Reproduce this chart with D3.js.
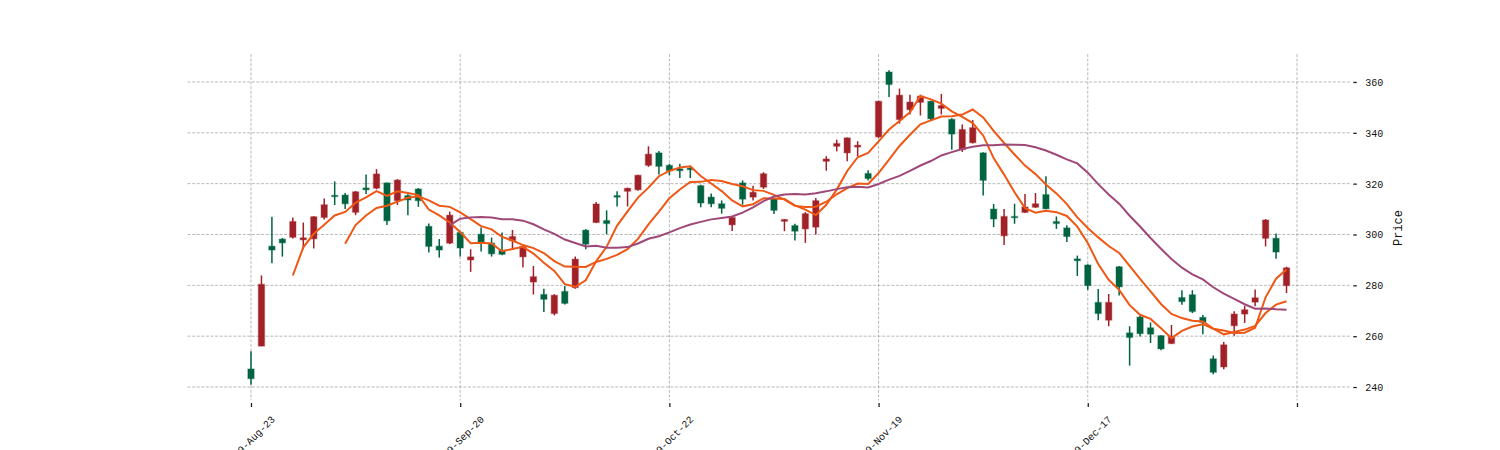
<!DOCTYPE html>
<html>
<head>
<meta charset="utf-8">
<script src="https://cdn.jsdelivr.net/npm/d3@7"></script>
<style>
  body { margin: 0; background: #fff; }
  .grid line { stroke: #a8a8a8; stroke-width: 0.8; stroke-dasharray: 3,1.6; }
  .axis text { font-family: "Liberation Mono", "DejaVu Sans Mono", monospace; font-size: 10px; fill: #111; }
  .axis line { stroke: #222; stroke-width: 1.3; }
  .axis-title { font-family: "Liberation Mono", "DejaVu Sans Mono", monospace; font-size: 12px; fill: #111; }
</style>
</head>
<body>
<div id="chart"></div>
<script>
// daily OHLC, one entry per trading day (index 0..99)
const opens = [247.1, 256.1, 295.4, 298.2, 298.9, 297.9, 298.3, 306.7, 315.4, 315.5,
  308.7, 318.3, 318.2, 320.3, 313.3, 315.3, 317.9, 303.2, 295.4, 296.6,
  300.8, 290.0, 300.1, 296.6, 293.8, 297.5, 291.2, 281.3, 276.4, 268.9,
  277.6, 279.1, 301.7, 304.7, 305.5, 315.3, 317.0, 317.6, 327.2, 332.1,
  327.2, 325.8, 326.1, 319.2, 314.7, 312.1, 303.8, 320.3, 314.7, 318.6,
  314.0, 305.2, 303.5, 302.2, 302.9, 328.8, 334.7, 332.1, 334.4, 324.0,
  338.4, 363.9, 345.2, 349.1, 352.0, 352.4, 349.6, 345.3, 333.4, 336.1,
  332.1, 310.0, 299.5, 307.1, 308.7, 310.7, 315.7, 305.1, 302.6, 290.4,
  288.0, 273.3, 266.3, 287.3, 261.3, 267.5, 263.3, 260.2, 257.1, 275.2,
  276.3, 267.4, 251.1, 247.9, 264.1, 268.7, 273.4, 298.5, 298.5, 279.9];
const highs = [254.1, 283.9, 307.0, 298.6, 306.7, 304.7, 307.2, 314.2, 320.9, 316.3,
  317.1, 323.6, 325.7, 320.5, 321.8, 315.8, 318.3, 304.3, 298.2, 309.0,
  301.4, 294.2, 302.8, 298.8, 300.8, 301.8, 295.8, 287.6, 278.7, 276.5,
  279.7, 291.3, 302.1, 312.8, 309.5, 317.0, 318.4, 323.5, 334.7, 332.8,
  327.8, 327.8, 327.1, 319.6, 316.1, 313.4, 306.9, 321.3, 319.2, 324.5,
  314.4, 306.1, 304.2, 308.8, 314.4, 330.8, 337.3, 338.2, 336.7, 325.3,
  352.6, 364.6, 357.4, 355.0, 355.0, 352.6, 355.3, 345.7, 343.3, 345.0,
  332.4, 312.0, 310.0, 312.1, 315.9, 316.3, 322.9, 307.1, 303.6, 291.7,
  288.3, 278.6, 276.6, 287.6, 263.9, 268.1, 265.4, 260.4, 264.4, 278.1,
  278.1, 268.3, 252.4, 257.7, 269.8, 272.0, 278.4, 306.1, 300.4, 287.3];
const lows = [240.9, 256.0, 288.7, 291.3, 298.4, 294.2, 294.5, 305.9, 311.6, 310.0,
  307.6, 315.9, 317.8, 303.7, 311.6, 307.6, 310.9, 292.9, 290.9, 296.2,
  291.3, 285.3, 293.3, 291.3, 291.8, 294.2, 287.0, 276.4, 269.5, 268.2,
  272.5, 278.7, 294.2, 304.5, 300.1, 311.0, 311.0, 317.2, 326.6, 323.6,
  323.3, 322.2, 322.2, 310.7, 310.7, 308.2, 301.4, 311.7, 313.4, 317.9,
  308.1, 301.3, 297.6, 296.7, 300.0, 325.1, 332.7, 328.8, 330.8, 321.2,
  338.0, 354.1, 343.6, 347.2, 346.8, 345.0, 347.2, 333.3, 332.5, 335.8,
  315.3, 302.9, 295.9, 304.2, 308.5, 310.5, 309.9, 302.2, 297.0, 283.7,
  278.2, 266.3, 263.9, 276.0, 248.4, 259.9, 257.3, 254.5, 256.9, 272.4,
  269.1, 260.8, 245.0, 247.0, 260.2, 265.2, 271.8, 295.3, 290.5, 277.0];
const closes = [243.3, 280.4, 293.9, 296.7, 305.1, 298.7, 307.0, 311.7, 314.9, 312.1,
  316.8, 317.6, 323.8, 305.4, 321.4, 313.6, 313.3, 295.3, 293.9, 307.6,
  294.7, 291.2, 296.6, 292.4, 292.2, 299.2, 295.3, 283.4, 274.5, 276.1,
  272.9, 290.3, 296.2, 312.0, 304.3, 314.7, 318.2, 323.3, 331.6, 326.8,
  325.1, 325.1, 325.5, 312.4, 312.1, 310.3, 306.7, 313.9, 316.6, 323.9,
  309.5, 305.9, 301.3, 308.2, 313.3, 329.7, 335.8, 338.0, 335.1, 322.0,
  352.4, 359.0, 354.8, 352.1, 354.4, 345.5, 350.7, 339.5, 341.3, 342.0,
  321.3, 306.1, 307.1, 306.6, 310.8, 312.1, 310.1, 304.3, 299.2, 289.7,
  279.9, 268.9, 273.3, 279.4, 259.5, 261.0, 260.8, 255.0, 259.9, 273.6,
  269.7, 265.4, 245.8, 256.6, 268.7, 270.4, 275.1, 305.7, 293.1, 286.9];

const tickIdx = [0, 20, 40, 60, 80, 100];
const tickLabels = ['2019-Aug-23', '2019-Sep-20', '2019-Oct-22', '2019-Nov-19', '2019-Dec-17', ''];
const yTicks = [240, 260, 280, 300, 320, 340, 360];
const mavWindows = [5, 10, 20];

class CandleChart {

  constructor(_config) {
    this.config = {
      parentElement: _config.parentElement,
      containerWidth: 1500,
      containerHeight: 450,
      margin: {top: 54, right: 150, bottom: 49.5, left: 187.5}
    }
    this.upColor = '#a02128';
    this.downColor = '#006340';
    this.mavColors = ['#ef5714', '#ef5714', '#9f4878'];
    this.initVis();
  }

  initVis() {
    let vis = this;
    const m = vis.config.margin;
    vis.width = vis.config.containerWidth - m.left - m.right;
    vis.height = vis.config.containerHeight - m.top - m.bottom;

    vis.xScale = d3.scaleLinear()
        .domain([-6.07, 105.07])
        .range([0, vis.width]);

    vis.yScale = d3.scaleLinear()
        .domain([234.7, 371.0])
        .range([vis.height, 0]);

    vis.svg = d3.select(vis.config.parentElement).append('svg')
        .attr('width', vis.config.containerWidth)
        .attr('height', vis.config.containerHeight);

    vis.chart = vis.svg.append('g')
        .attr('transform', `translate(${m.left},${m.top})`);

    // dashed grid
    vis.grid = vis.chart.append('g').attr('class', 'grid');
    vis.grid.selectAll('.hgrid')
        .data(yTicks)
        .join('line')
        .attr('class', 'hgrid')
        .attr('x1', 0).attr('x2', vis.width)
        .attr('y1', d => vis.yScale(d)).attr('y2', d => vis.yScale(d));
    vis.grid.selectAll('.vgrid')
        .data(tickIdx)
        .join('line')
        .attr('class', 'vgrid')
        .attr('y1', 0).attr('y2', vis.height)
        .attr('x1', d => vis.xScale(d)).attr('x2', d => vis.xScale(d));

    vis.xAxis = d3.axisBottom(vis.xScale)
        .tickValues(tickIdx)
        .tickSize(4)
        .tickFormat((d, i) => tickLabels[i]);

    vis.yAxis = d3.axisRight(vis.yScale)
        .tickValues(yTicks)
        .tickSize(3.5)
        .tickPadding(8.5);

    vis.xAxisG = vis.chart.append('g')
        .attr('class', 'axis x-axis')
        .attr('transform', `translate(0,${vis.height + 2.5})`);

    vis.yAxisG = vis.chart.append('g')
        .attr('class', 'axis y-axis')
        .attr('transform', `translate(${vis.width + 3.3},0)`);

    vis.svg.append('text')
        .attr('class', 'axis-title')
        .attr('transform', `translate(1402,228) rotate(-90)`)
        .style('text-anchor', 'middle')
        .text('Price');
  }

  updateVis() {
    let vis = this;
    vis.candles = closes.map((c, i) => ({
      i: i, open: opens[i], high: highs[i], low: lows[i], close: c
    }));

    // simple moving averages of the close
    vis.mavs = mavWindows.map(w => {
      const pts = [];
      for (let i = w - 1; i < closes.length; i++) {
        pts.push({i: i, v: d3.mean(closes.slice(i - w + 1, i + 1))});
      }
      return pts;
    });

    vis.renderVis();
  }

  renderVis() {
    let vis = this;
    const bodyW = vis.xScale(0.6) - vis.xScale(0);
    const color = d => d.close >= d.open ? vis.upColor : vis.downColor;

    vis.chart.selectAll('.wick')
        .data(vis.candles)
        .join('line')
        .attr('class', 'wick')
        .attr('x1', d => vis.xScale(d.i)).attr('x2', d => vis.xScale(d.i))
        .attr('y1', d => vis.yScale(d.high)).attr('y2', d => vis.yScale(d.low))
        .attr('stroke', color)
        .attr('stroke-width', 1.5);

    vis.chart.selectAll('.body')
        .data(vis.candles)
        .join('rect')
        .attr('class', 'body')
        .attr('x', d => vis.xScale(d.i) - bodyW / 2)
        .attr('width', bodyW)
        .attr('y', d => vis.yScale(Math.max(d.open, d.close)))
        .attr('height', d => Math.max(1, Math.abs(vis.yScale(d.open) - vis.yScale(d.close))))
        .attr('fill', color)
        .attr('stroke', color)
        .attr('stroke-opacity', 0.3)
        .attr('stroke-width', 1.4);

    const line = d3.line()
        .x(d => vis.xScale(d.i))
        .y(d => vis.yScale(d.v));

    vis.chart.selectAll('.mav')
        .data(vis.mavs)
        .join('path')
        .attr('class', 'mav')
        .attr('d', line)
        .attr('fill', 'none')
        .attr('stroke', (d, i) => vis.mavColors[i])
        .attr('stroke-width', 2);

    vis.xAxisG.call(vis.xAxis);
    vis.xAxisG.select('.domain').remove();
    vis.xAxisG.selectAll('text')
        .attr('y', 0)
        .attr('dy', 0)
        .style('text-anchor', 'end')
        .attr('transform', 'translate(24,17) rotate(-45)');

    vis.yAxisG.call(vis.yAxis);
    vis.yAxisG.select('.domain').remove();
    vis.yAxisG.selectAll('text').attr('dy', '0.35em');
  }
}

const chart = new CandleChart({parentElement: '#chart'});
chart.updateVis();
</script>
</body>
</html>
